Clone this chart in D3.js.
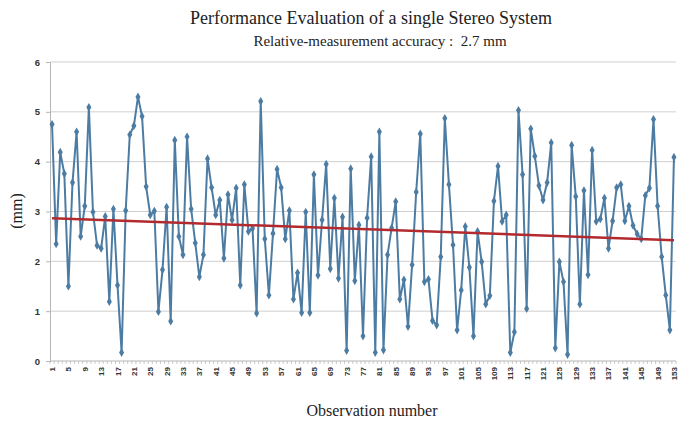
<!DOCTYPE html>
<html>
<head>
<meta charset="utf-8">
<script src="https://cdn.jsdelivr.net/npm/d3@7"></script>
<style>
  body { margin: 0; background: #fff; }
  svg { display: block; }
</style>
</head>
<body>
<div class="canvas"></div>
<script>
const dims = { width: 696, height: 423 };
const margin = { top: 62, right: 20, bottom: 62, left: 50 };

// data
const titleText = 'Performance Evaluation of a single Stereo System';
const subtitleText = 'Relative-measurement accuracy :\u00a0 2.7 mm';
const yTicks = [0, 1, 2, 3, 4, 5, 6];
const errors = [
  4.75, 2.35, 4.19, 3.76, 1.50, 3.58, 4.60, 2.50, 3.11, 5.09, 2.99, 2.32, 2.26, 2.90, 1.19, 3.05, 1.52, 0.17, 3.02, 4.54,
  4.72, 5.30, 4.91, 3.50, 2.93, 3.01, 0.99, 1.83, 3.09, 0.80, 4.43, 2.50, 2.13, 4.50, 3.05, 2.37, 1.69, 2.13, 4.06, 3.48,
  2.93, 3.23, 2.06, 3.34, 2.83, 3.47, 1.52, 3.54, 2.60, 2.66, 0.96, 5.21, 2.45, 1.32, 2.56, 3.85, 3.48, 2.45, 3.02, 1.24,
  1.77, 0.97, 2.99, 0.97, 3.74, 1.72, 2.83, 3.95, 1.85, 3.27, 1.66, 2.89, 0.21, 3.86, 1.61, 2.73, 0.50, 2.87, 4.10, 0.17,
  4.60, 0.22, 2.13, 2.67, 3.20, 1.24, 1.63, 0.69, 1.93, 3.39, 4.56, 1.59, 1.64, 0.81, 0.72, 2.09, 4.87, 3.54, 2.33, 0.62,
  1.42, 2.70, 1.88, 0.50, 2.60, 1.99, 1.14, 1.31, 3.21, 3.91, 2.80, 2.93, 0.17, 0.58, 5.03, 3.74, 1.05, 4.66, 4.11, 3.52,
  3.23, 3.58, 4.38, 0.26, 1.99, 1.59, 0.13, 4.33, 3.30, 1.14, 3.42, 1.73, 4.23, 2.80, 2.85, 3.27, 2.26, 2.81, 3.48, 3.54,
  2.81, 3.11, 2.72, 2.55, 2.45, 3.32, 3.47, 4.85, 3.11, 2.09, 1.32, 0.62, 4.09
];
const observations = errors.map((d, i) => i + 1);
const xLabels = observations.filter(n => (n - 1) % 4 === 0);

const data = observations.map((n, i) => ({ n, v: errors[i] }));

// linear trend (least squares)
const mx = d3.mean(data, d => d.n);
const my = d3.mean(data, d => d.v);
const slope = d3.sum(data, d => (d.n - mx) * (d.v - my)) / d3.sum(data, d => (d.n - mx) ** 2);
const trend = n => my + slope * (n - mx);

const svg = d3.select('.canvas')
  .append('svg')
    .attr('width', dims.width)
    .attr('height', dims.height);

const innerW = 676 - margin.left;
const innerH = 361 - margin.top;

const graph = svg.append('g')
  .attr('transform', `translate(${margin.left}, ${margin.top})`);

// scales
const x = d3.scaleBand()
  .domain(observations)
  .range([0, innerW]);
const xc = n => x(n) + x.bandwidth() / 2;

const y = d3.scaleLinear()
  .domain([0, 6])
  .range([innerH, 0]);

// gridlines
graph.append('g')
  .selectAll('line')
  .data(yTicks.filter(t => t > 0))
  .join('line')
    .attr('x1', 0)
    .attr('x2', innerW)
    .attr('y1', d => y(d))
    .attr('y2', d => y(d))
    .attr('stroke', '#cfcfcf')
    .attr('stroke-width', 1);

// y axis
const yAxis = graph.append('g')
  .call(d3.axisLeft(y).tickValues(yTicks).tickFormat(d3.format('d')).tickSize(4).tickPadding(6));
yAxis.select('.domain').attr('stroke', '#b5b5b5');
yAxis.selectAll('.tick line').attr('stroke', '#b5b5b5');
yAxis.selectAll('.tick text')
  .attr('font-family', 'Liberation Sans, Arial, sans-serif')
  .attr('font-weight', 'bold')
  .attr('font-size', 9.5)
  .attr('fill', '#333');

// x axis: tick at every category boundary
const xAxisG = graph.append('g')
  .attr('transform', `translate(0, ${innerH})`);
xAxisG.append('line')
  .attr('x1', 0).attr('x2', innerW)
  .attr('stroke', '#b5b5b5');
xAxisG.selectAll('.minor')
  .data(observations.concat([observations.length + 1]))
  .join('line')
    .attr('class', 'minor')
    .attr('x1', (d, i) => i * x.bandwidth())
    .attr('x2', (d, i) => i * x.bandwidth())
    .attr('y1', 0)
    .attr('y2', 3)
    .attr('stroke', '#b5b5b5')
    .attr('stroke-width', 0.7);
xAxisG.selectAll('.xlab')
  .data(xLabels)
  .join('text')
    .attr('class', 'xlab')
    .attr('transform', d => `translate(${xc(d) + 3}, 6) rotate(-90)`)
    .attr('text-anchor', 'end')
    .attr('font-family', 'Liberation Sans, Arial, sans-serif')
    .attr('font-weight', 'bold')
    .attr('font-size', 8)
    .attr('fill', '#333')
    .text(d => d);

// data line
const line = d3.line()
  .x(d => xc(d.n))
  .y(d => y(d.v));

const blue = '#4d7ca3';

graph.append('path')
  .datum(data)
  .attr('fill', 'none')
  .attr('stroke', blue)
  .attr('stroke-width', 2)
  .attr('stroke-linejoin', 'round')
  .attr('d', line);

// diamond markers
graph.append('g')
  .selectAll('path')
  .data(data)
  .join('path')
    .attr('transform', d => `translate(${xc(d.n)}, ${y(d.v)})`)
    .attr('d', d3.symbol(d3.symbolDiamond, 22))
    .attr('fill', blue);

// trend line
const first = observations[0];
const last = observations[observations.length - 1];
graph.append('line')
  .attr('x1', xc(first))
  .attr('x2', xc(last))
  .attr('y1', y(trend(first)))
  .attr('y2', y(trend(last)))
  .attr('stroke', '#b22a2e')
  .attr('stroke-width', 2.5);

// titles
svg.append('text')
  .attr('x', 371)
  .attr('y', 24)
  .attr('text-anchor', 'middle')
  .attr('font-family', 'Liberation Serif, Times New Roman, serif')
  .attr('font-size', 18)
  .attr('fill', '#222')
  .text(titleText);

svg.append('text')
  .attr('x', 380)
  .attr('y', 46)
  .attr('text-anchor', 'middle')
  .attr('font-family', 'Liberation Serif, Times New Roman, serif')
  .attr('font-size', 15)
  .attr('fill', '#222')
  .text(subtitleText);

svg.append('text')
  .attr('transform', 'translate(22, 211) rotate(-90)')
  .attr('text-anchor', 'middle')
  .attr('font-family', 'Liberation Serif, Times New Roman, serif')
  .attr('font-size', 16)
  .attr('fill', '#222')
  .text('(mm)');

svg.append('text')
  .attr('x', 372)
  .attr('y', 416)
  .attr('text-anchor', 'middle')
  .attr('font-family', 'Liberation Serif, Times New Roman, serif')
  .attr('font-size', 16)
  .attr('fill', '#222')
  .text('Observation number');
</script>
</body>
</html>
